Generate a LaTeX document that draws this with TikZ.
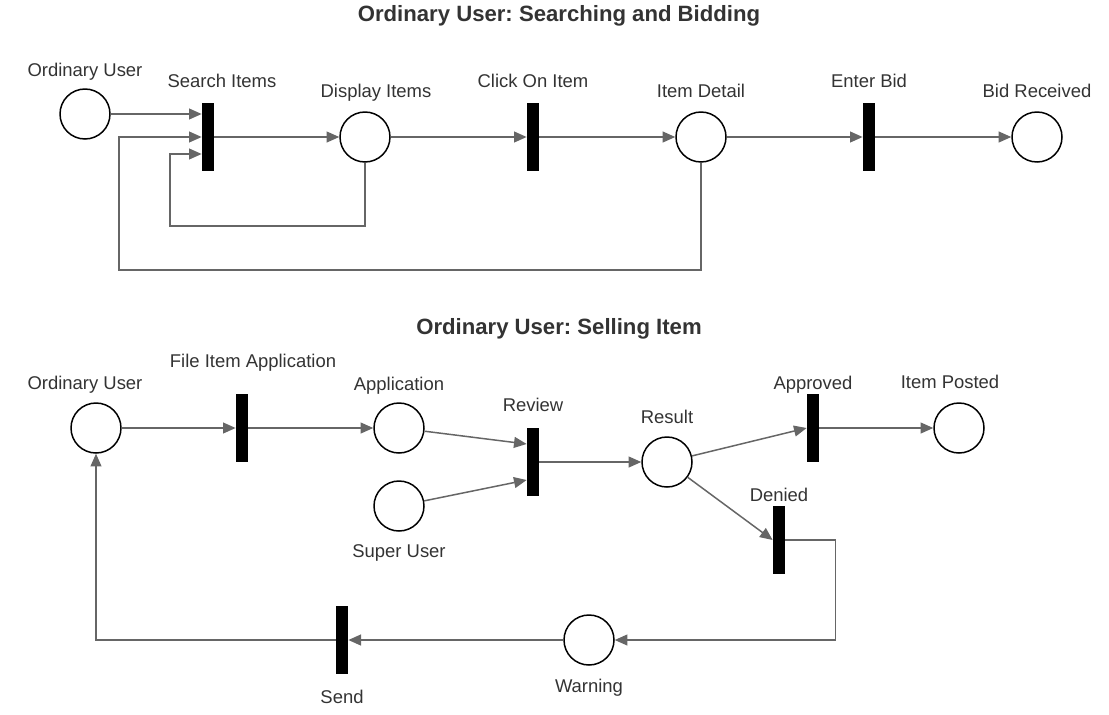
\documentclass[tikz,border=0pt]{standalone}
\usepackage{fontspec}
\setmainfont{Liberation Sans}
\usepackage{tikz}
\usetikzlibrary{positioning,shapes,arrows.meta,calc}
\frenchspacing
\definecolor{txtgray}{HTML}{333333}
\definecolor{arcgray}{HTML}{666666}
\tikzstyle{place} = [circle, draw, line width=0.85pt, minimum size=1cm, %
   inner sep=0pt]
\tikzstyle{trans} = [rectangle, fill=black, minimum width=0.24cm, %
   minimum height=1.36cm, inner sep=0pt]
\tikzstyle{lbl} = [text=txtgray, inner sep=0pt, text height=0.75em, %
   text depth=0.2em, font=\fontsize{10.5}{12}\selectfont]
\tikzstyle{plbl} = [label distance=0.2cm]
\tikzstyle{tlbl} = [label distance=0.22cm]
\tikzstyle{title} = [text=txtgray, font=\bfseries\fontsize{12.6}{15}\selectfont]
\tikzstyle{arc} = [draw, arcgray, line width=0.85pt, %
   -{Triangle[length=7.2pt,width=6.2pt]}]

\begin{document}
\begin{tikzpicture}[x=0.02cm, y=-0.02cm, every label/.style={lbl}]
   \useasboundingbox (0,0) rectangle (1109,714);

   % SEARCHING AND BIDDING %%%%%%%%%%%%%%%%%%%%%%%%%%%%%%%%%%%%%%%%%%
   \node[title] (title1) at (559,16) {Ordinary User: Searching and Bidding};

   \node[place, label={[label distance=0.16cm]above:Ordinary User}] (user1) at (85,114) {};
   \node[trans, label={[tlbl,xshift=0.28cm]above:Search Items}] (search) at (208,137) {};
   \node[place, label={[plbl,xshift=0.22cm]above:Display Items}] (display) at (365,137) {};
   \node[trans, label={[tlbl]above:Click On Item}] (click) at (533,137) {};
   \node[place, label={[plbl]above:Item Detail}] (detail) at (701,137) {};
   \node[trans, label={[tlbl]above:Enter Bid}] (enterbid) at (869,137) {};
   \node[place, label={[plbl]above:Bid Received}] (received) at (1037,137) {};

   \coordinate (loopA) at (170,226);
   \coordinate (loopB) at (119,270);

   % Draw edges
   \path [arc] (user1.east) -- (user1.east -| search.west);
   \path [arc] (search) -- (display);
   \path [arc] (display) -- (click);
   \path [arc] (click) -- (detail);
   \path [arc] (detail) -- (enterbid);
   \path [arc] (enterbid) -- (received);
   \path [arc] (display.south) |- (loopA) |- ($(search.west)+(0,17)$);
   \path [arc] (detail.south) |- (loopB) |- (search.west);

   % SELLING ITEM %%%%%%%%%%%%%%%%%%%%%%%%%%%%%%%%%%%%%%%%%%%%%%%%%%%
   \node[title] (title2) at (559,329) {Ordinary User: Selling Item};

   \node[place, label={[xshift=-0.22cm,label distance=0.18cm]above:Ordinary User}] (user2) at (96,428) {};
   \node[trans, label={[xshift=0.22cm,label distance=0.44cm]above:File Item Application}] (file) at (242,428) {};
   \node[place, label={[label distance=0.16cm]above:Application}] (appl) at (399,428) {};
   \node[place, label={[label distance=0.24cm]below:Super User}] (super) at (399,506) {};
   \node[trans, label={[label distance=0.24cm]above:Review}] (review) at (533,462) {};
   \node[place, label={[label distance=0.18cm]above:Result}] (result) at (667,462) {};
   \node[trans, label={[label distance=0cm]above:Approved}] (approved) at (813,428) {};
   \node[place, label={[plbl,xshift=-0.18cm]above:Item Posted}] (posted) at (959,428) {};
   \node[trans, label={[label distance=0cm]above:Denied}] (denied) at (779,540) {};
   \node[place, label={[label distance=0.26cm]below:Warning}] (warning) at (589,640) {};
   \node[trans, label={[label distance=0.32cm]below:Send}] (send) at (342,640) {};

   % Draw edges
   \path [arc] (user2) -- (file);
   \path [arc] (file) -- (appl);
   \path [arc] (appl) -- ($(review.west)+(0,-18)$);
   \path [arc] (super) -- ($(review.west)+(0,18)$);
   \path [arc] (review) -- (result);
   \path [arc] (result) -- (approved.west);
   \path [arc] (approved) -- (posted);
   \path [arc] (result) -- (denied.west);
   \path [arc] (denied.east) -- ++(50,0) |- (warning.east);
   \path [arc] (warning) -- (send.east);
   \path [arc] (send.west) -| (user2.south);
\end{tikzpicture}
\end{document}
